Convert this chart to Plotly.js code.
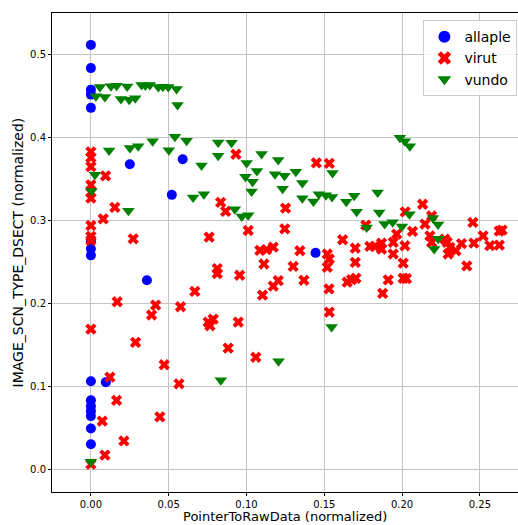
<!DOCTYPE html>
<html>
<head>
<meta charset="utf-8">
<script src="https://cdn.plot.ly/plotly-3.0.1.min.js"></script>
<style>html,body{margin:0;padding:0;background:#fff;}#chart{width:518px;height:525px;}</style>
</head>
<body>
<div id="chart"></div>
<script>
// ---- data (normalized values) ----
const seriesNames = ["allaple", "virut", "vundo"];

const allapleX = [0,0,0,0,0,0.025,0.059,0.052,0,0,0,0.036,0.1444,0,0.0096,0,0,0,0,0,0];
const allapleY = [0.512,0.484,0.458,0.452,0.436,0.368,0.374,0.331,0.275,0.266,0.258,0.228,0.261,0.106,0.105,0.083,0.076,0.070,0.064,0.049,0.030];

const virutX = [0,0,0,0,0,0,0,0,0,0,0,
  0.0094,0.0154,0.0079,0.0272,0.0169,0.0416,0.039,0.0576,0.0668,0.0287,0.0471,0.0122,0.0566,0.0165,0.0073,0.0443,0.0212,0.009,
  0.0882,0.106,0.0754,0.0786,0.0765,0.0947,0.1103,0.1369,0.0812,0.0812,0.0956,0.076,0.0834,0.0866,0.0932,0.1011,
  0.1251,0.1246,0.1086,0.1129,0.1172,0.1343,0.1112,0.130,0.1519,0.1532,0.1519,0.1204,0.1172,0.153,0.1532,
  0.1618,0.1699,0.1699,0.1675,0.1703,0.1647,0.1767,0.1793,0.1825,0.1868,0.1868,0.1875,0.1911,0.1943,0.1943,0.1965,
  0.2007,0.2007,0.2028,0.2018,0.202,0.2067,0.2132,0.219,0.2147,0.2179,0.219,0.2275,0.229,0.2307,0.2296,0.2346,
  0.2382,0.2416,0.2455,0.2461,0.2521,0.2564,0.2625,0.2624,0.2643,0.1449,0.1532];
const virutY = [0.383,0.376,0.365,0.343,0.334,0.327,0.294,0.281,0.276,0.169,0.006,
  0.354,0.316,0.302,0.278,0.202,0.198,0.186,0.196,0.2145,0.153,0.126,0.111,0.103,0.083,0.058,0.063,0.034,0.017,
  0.146,0.135,0.1775,0.181,0.173,0.1775,0.210,0.228,0.242,0.236,0.234,0.280,0.322,0.311,0.380,0.288,
  0.315,0.290,0.264,0.265,0.268,0.2636,0.2476,0.2446,0.2596,0.2536,0.2436,0.2275,0.2208,0.2175,0.1895,
  0.2768,0.2668,0.2496,0.2287,0.2304,0.2256,0.2945,0.2689,0.2689,0.2728,0.2656,0.2121,0.2284,0.2737,0.2596,0.2837,
  0.2486,0.2304,0.230,0.2696,0.3105,0.287,0.3197,0.3057,0.2957,0.2816,0.2737,0.2776,0.2737,0.2677,0.2596,0.2636,
  0.2722,0.2452,0.2977,0.2728,0.2816,0.2698,0.2704,0.2873,0.2885,0.3696,0.369];

const vundoX = [0.0058,0.0129,0.0165,0.0233,0.0326,0.035,0.0379,0.0433,0.0463,0.0497,0.0551,
  0.0032,0.009,0.0193,0.0246,0.0285,0.0557,
  0.0117,0.0251,0.0304,0.0397,0.054,0.0615,0.0501,0.0818,0.0904,0.0818,0.0711,
  0.0026,0.0004,0.0241,0.0657,0.0726,
  0.1097,0.1001,0.1204,0.1067,0.0993,0.1039,0.1033,0.1183,0.1244,0.1317,0.1359,0.1232,0.1359,0.143,
  0.1465,0.151,0.155,0.1641,0.1692,0.1708,0.1553,0.0925,0.097,0.1011,
  0.1772,0.1843,0.1853,0.1888,0.1939,0.1999,0.2047,0.2198,0.2231,0.2232,0.2206,
  0.1986,0.2018,0.205,0.1547,0.1206,0.0835,0];
const vundoY = [0.4612,0.4621,0.4627,0.4619,0.4636,0.4630,0.4636,0.4612,0.4615,0.4612,0.4588,
  0.4499,0.4492,0.4468,0.4459,0.4475,0.4395,
  0.3846,0.3876,0.3898,0.3958,0.4011,0.3963,0.385,0.3942,0.3939,0.3782,0.3666,
  0.3552,0.3357,0.3117,0.3278,0.3317,
  0.3804,0.3694,0.373,0.3597,0.3528,0.3468,0.3351,0.3558,0.354,0.359,0.3453,0.3383,0.3269,0.323,
  0.3317,0.3305,0.3284,0.3227,0.3299,0.3105,0.3573,0.3137,0.3050,0.3065,
  0.2917,0.3338,0.3097,0.2957,0.2981,0.2929,0.3077,0.3031,0.2951,0.278,0.2656,
  0.3999,0.3958,0.3898,0.1715,0.1302,0.1073,0.009];

const xTickVals = [0, 0.05, 0.10, 0.15, 0.20, 0.25];
const yTickVals = [0.0, 0.1, 0.2, 0.3, 0.4, 0.5];
const xTitle = "PointerToRawData (normalized)";
const yTitle = "IMAGE_SCN_TYPE_DSECT (normalized)";

// ---- chart ----
const font = "DejaVu Sans, sans-serif";
const traces = [
  {x: allapleX, y: allapleY, name: seriesNames[0], type: "scatter", mode: "markers",
   marker: {symbol: "circle", size: 10, color: "#0000ff"}},
  {x: virutX, y: virutY, name: seriesNames[1], type: "scatter", mode: "markers",
   marker: {symbol: "x", size: 10, color: "#ff0000"}},
  {x: vundoX, y: vundoY, name: seriesNames[2], type: "scatter", mode: "markers",
   marker: {symbol: "triangle-down", size: 11, color: "#008000"}}
];

const axisCommon = {
  showline: true, linecolor: "#000", linewidth: 1, mirror: true,
  showgrid: true, gridcolor: "#c4c4c4", gridwidth: 1,
  zeroline: false, ticks: "outside", ticklen: 3, tickcolor: "#000",
  tickfont: {family: font, size: 10, color: "#000"}, automargin: false
};

const layout = {
  width: 518, height: 525,
  margin: {l: 52, r: 0, t: 13, b: 33},
  paper_bgcolor: "#fff", plot_bgcolor: "#fff",
  font: {family: font, color: "#000"},
  showlegend: true,
  legend: {x: 0.797, y: 0.985, xanchor: "left", yanchor: "top",
    bgcolor: "rgba(255,255,255,0.85)", bordercolor: "#cccccc", borderwidth: 1,
    tracegroupgap: 0,
    font: {family: font, size: 14, color: "#000"}, itemsizing: "constant"},
  xaxis: Object.assign({}, axisCommon, {
    range: [-0.025, 0.2745], tickvals: xTickVals, tickformat: ".2f"
  }),
  yaxis: Object.assign({}, axisCommon, {
    range: [-0.0276, 0.5505], tickvals: yTickVals, tickformat: ".1f"
  }),
  annotations: [
    {text: xTitle, xref: "paper", yref: "paper", x: 0.5, y: -0.0511,
     xanchor: "center", yanchor: "middle", showarrow: false, borderpad: 0,
     font: {family: font, size: 13, color: "#000"}},
    {text: yTitle, xref: "paper", yref: "paper", x: -0.073, y: 0.5,
     xanchor: "center", yanchor: "middle", textangle: -90, showarrow: false,
     font: {family: font, size: 14, color: "#000"}}
  ]
};

Plotly.newPlot("chart", traces, layout, {displayModeBar: false, staticPlot: true});
</script>
</body>
</html>
